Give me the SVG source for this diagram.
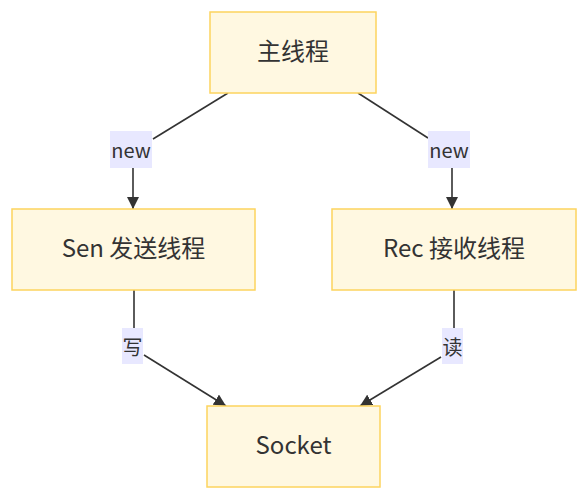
<svg xmlns="http://www.w3.org/2000/svg" width="585" height="500" viewBox="0 0 585 500">
<style>
.node rect{fill:#fff8e1;stroke:#fdd45e;stroke-width:1.5}
.node text{font-family:"Noto Sans CJK SC","Noto Sans",sans-serif;font-size:24px;fill:#333;text-anchor:middle;dominant-baseline:central}
.edge{fill:none;stroke:#333;stroke-width:1.6}
.lbl rect{fill:#e8e8ff}
.lbl text{font-family:"Noto Sans CJK SC","Noto Sans",sans-serif;font-size:20px;fill:#333;text-anchor:middle;dominant-baseline:central}
</style>
<defs>
<marker id="ah" viewBox="0 0 10 10" refX="10" refY="5" markerWidth="12" markerHeight="12" markerUnits="userSpaceOnUse" orient="auto">
<path d="M0,0 L10,5 L0,10 z" fill="#333"/>
</marker>
</defs>
<g id="connectors">
<polyline class="edge" points="228,93 153,139"/>
<polyline class="edge" points="133,168 133,209" marker-end="url(#ah)"/>
<polyline class="edge" points="358,93 428,138"/>
<polyline class="edge" points="452,168 452,209" marker-end="url(#ah)"/>
<polyline class="edge" points="134,290 134,328"/>
<polyline class="edge" points="144,355 226,406" marker-end="url(#ah)"/>
<polyline class="edge" points="454,290 454,328"/>
<polyline class="edge" points="441,357 360,406" marker-end="url(#ah)"/>
<g class="lbl" id="l1"><rect x="110" y="131" width="42" height="37"/><text x="131" y="149">new</text></g>
<g class="lbl" id="l2"><rect x="428" y="131" width="42" height="37"/><text x="449" y="149">new</text></g>
<g class="lbl" id="l3"><rect x="122" y="328" width="21" height="36"/><text x="132.5" y="346">写</text></g>
<g class="lbl" id="l4"><rect x="442" y="328" width="21" height="36"/><text x="452.5" y="346">读</text></g>
</g>
<g class="node" id="main"><rect x="210" y="12" width="166" height="81"/><text x="293" y="49">主线程</text></g>
<g class="node" id="sen"><rect x="12" y="209" width="243" height="81"/><text x="133.5" y="246">Sen 发送线程</text></g>
<g class="node" id="rec"><rect x="332" y="209" width="244" height="81"/><text x="454" y="246">Rec 接收线程</text></g>
<g class="node" id="socket"><rect x="207" y="406" width="173" height="81"/><text x="293.5" y="443">Socket</text></g>
</svg>
